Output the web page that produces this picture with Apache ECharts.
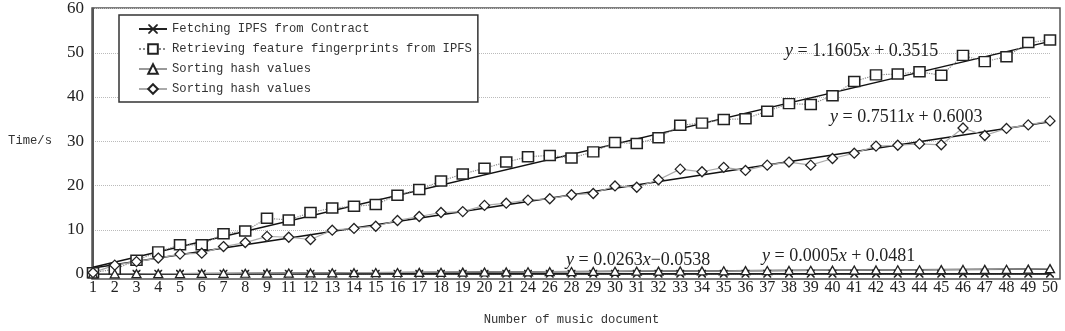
<!DOCTYPE html>
<html>
<head>
<meta charset="utf-8">
<script src="https://cdn.jsdelivr.net/npm/echarts@6/dist/echarts.min.js"></script>
<style>
html, body {margin: 0; padding: 0; background: #fff;}
#main {width: 1065px; height: 331px;}
</style>
</head>
<body>
<div id="main"></div>
<script>
// document numbers on the x axis (10, 22, 23, 25, 27 are not in the figure)
var docLabels = ['1', '2', '3', '4', '5', '6', '7', '8', '9', '11', '12', '13', '14', '15', '16', '17', '18', '19', '20', '21',
    '24', '26', '28', '29', '30', '31', '32', '33', '34', '35', '36', '37', '38', '39', '40', '41', '42', '43', '44', '45',
    '46', '47', '48', '49', '50'];

var contractTime = [0.05, 0.04, 0.05, 0.06, 0.05, 0.05, 0.06, 0.05, 0.05, 0.06, 0.05, 0.06, 0.05, 0.06, 0.06, 0.05, 0.06, 0.06, 0.05, 0.06,
    0.06, 0.05, 0.06, 0.06, 0.06, 0.05, 0.06, 0.06, 0.07, 0.06, 0.06, 0.07, 0.06, 0.07, 0.06, 0.07, 0.07, 0.06, 0.07, 0.07,
    0.07, 0.06, 0.07, 0.07, 0.08];

var fingerprintTime = [0.3, 1.1, 3.1, 5.0, 6.6, 6.6, 9.1, 9.7, 12.6, 12.2, 13.9, 14.9, 15.3, 15.7, 17.8, 19.1, 21.0, 22.6, 23.9, 25.3,
    26.5, 26.8, 26.2, 27.6, 29.7, 29.5, 30.8, 33.6, 34.1, 34.9, 35.1, 36.8, 38.5, 38.3, 40.3, 43.5, 45.0, 45.2, 45.7, 44.9,
    49.4, 48.0, 49.1, 52.3, 52.9];

var sortTime = [0.02, 0.04, 0.06, 0.08, 0.10, 0.12, 0.15, 0.17, 0.19, 0.22, 0.24, 0.27, 0.29, 0.32, 0.34, 0.37, 0.39, 0.42, 0.45, 0.47,
    0.50, 0.52, 0.55, 0.57, 0.60, 0.63, 0.65, 0.68, 0.70, 0.73, 0.76, 0.78, 0.81, 0.83, 0.86, 0.89, 0.91, 0.94, 0.96, 0.99,
    1.02, 1.04, 1.07, 1.10, 1.22];

var sortTime2 = [0.3, 2.0, 2.8, 3.6, 4.5, 4.7, 6.2, 7.1, 8.5, 8.3, 7.8, 9.9, 10.3, 10.8, 12.1, 13.0, 13.9, 14.1, 15.5, 16.0,
    16.7, 17.0, 17.9, 18.2, 19.9, 19.6, 21.3, 23.7, 23.1, 24.1, 23.4, 24.6, 25.3, 24.6, 26.1, 27.3, 28.9, 29.1, 29.4, 29.2,
    33.0, 31.3, 32.9, 33.7, 34.6];

// fitted lines: value at the first and at the last document
var contractFit = [0.05, 0.07];
var fingerprintFit = [1.51, 52.57];
var sortFit = [-0.03, 1.13];
var sortFit2 = [1.35, 34.40];

var yTicks = [0, 10, 20, 30, 40, 50, 60];

var serif = 'Liberation Serif';
var mono = 'Liberation Mono';
var crossPath = 'path://M0,0 L1.4,0 L5,3.6 L8.6,0 L10,0 L10,1.4 L6.4,5 L10,8.6 L10,10 L8.6,10 L5,6.4 L1.4,10 L0,10 L0,8.6 L3.6,5 L0,1.4 Z';

var names = ['Fetching IPFS from Contract', 'Retrieving feature fingerprints from IPFS', 'Sorting hash values', 'Sorting hash values '];

function fitLine(vals) {
    return [[docLabels[0], vals[0]], [docLabels[docLabels.length - 1], vals[1]]];
}

function eqText(a, b) {
    return '{i|y} = ' + a + '{i|x}' + b;
}

var myChart = echarts.init(document.getElementById('main'), null, {renderer: 'canvas'});

var eqRich = {i: {fontStyle: 'italic', fontFamily: serif, fontSize: 18, fill: '#222'}};

var option = {
    backgroundColor: '#fff',
    animation: false,
    grid: [
        {left: 93, right: 15, top: 8, bottom: 52},
        {left: 92, right: 5, top: 8, bottom: 52, show: true, borderColor: '#555', borderWidth: 1.5, backgroundColor: 'transparent'}
    ],
    legend: {
        orient: 'vertical',
        left: 119,
        top: 15,
        padding: [8, 6, 7, 19],
        itemGap: 8,
        itemWidth: 28,
        itemHeight: 12,
        borderColor: '#333',
        borderWidth: 1.5,
        borderRadius: 0,
        backgroundColor: '#fff',
        textStyle: {fontFamily: mono, fontSize: 12.2, color: '#333'},
        data: names
    },
    xAxis: [
        {
            type: 'category',
            data: docLabels,
            boundaryGap: false,
            name: 'Number of music document',
            nameLocation: 'middle',
            nameGap: 40,
            nameTextStyle: {fontFamily: mono, fontSize: 12.2, color: '#333'},
            axisLine: {lineStyle: {color: '#444', width: 1.5}},
            axisTick: {show: false},
            axisLabel: {interval: 0, margin: 6, fontFamily: serif, fontSize: 16, color: '#222'},
            splitLine: {show: false}
        },
        {gridIndex: 1, type: 'value', show: false}
    ],
    yAxis: [
        {
            type: 'value',
            min: yTicks[0],
            max: yTicks[yTicks.length - 1],
            interval: 10,
            name: 'Time/s',
            nameLocation: 'middle',
            nameRotate: 0,
            nameGap: 41,
            nameTextStyle: {fontFamily: mono, fontSize: 12.2, color: '#333'},
            axisLine: {show: true, lineStyle: {color: '#555', width: 2}},
            axisTick: {show: false},
            axisLabel: {margin: 9, fontFamily: serif, fontSize: 17, color: '#222'},
            splitLine: {lineStyle: {color: '#bbb', type: 'dotted', width: 1}}
        },
        {gridIndex: 1, type: 'value', show: false}
    ],
    series: [
        // fitted trend lines
        {name: 'fit-contract', type: 'line', data: fitLine(contractFit), symbol: 'none', silent: true, z: 2,
            lineStyle: {color: '#111', width: 1.5}},
        {name: 'fit-fingerprint', type: 'line', data: fitLine(fingerprintFit), symbol: 'none', silent: true, z: 2,
            lineStyle: {color: '#111', width: 1.5}},
        {name: 'fit-sort', type: 'line', data: fitLine(sortFit), symbol: 'none', silent: true, z: 2,
            lineStyle: {color: '#111', width: 1.5}},
        {name: 'fit-sort2', type: 'line', data: fitLine(sortFit2), symbol: 'none', silent: true, z: 2,
            lineStyle: {color: '#111', width: 1.5}},
        // measured values
        {
            name: names[0], type: 'line', data: contractTime, z: 3,
            symbol: crossPath, symbolSize: 8,
            lineStyle: {color: '#222', width: 1.2},
            itemStyle: {color: '#222', borderWidth: 0}
        },
        {
            name: names[1], type: 'line', data: fingerprintTime, z: 3,
            symbol: 'rect', symbolSize: [11, 10],
            lineStyle: {color: '#888', width: 1.2, type: 'dotted'},
            itemStyle: {color: '#fff', borderColor: '#222', borderWidth: 1.5}
        },
        {
            name: names[2], type: 'line', data: sortTime, z: 3,
            symbol: 'triangle', symbolSize: [9, 8],
            lineStyle: {color: '#999', width: 1.2},
            itemStyle: {color: '#fff', borderColor: '#222', borderWidth: 1.3}
        },
        {
            name: names[3], type: 'line', data: sortTime2, z: 3,
            symbol: 'diamond', symbolSize: [10, 10],
            lineStyle: {color: '#aaa', width: 1.2},
            itemStyle: {color: '#fff', borderColor: '#222', borderWidth: 1.3}
        }
    ],
    graphic: [
        {type: 'text', left: 785, top: 42, z: 10, style: {text: eqText('1.1605', ' + 0.3515'), fontFamily: serif, fontSize: 18, fill: '#222', rich: eqRich}},
        {type: 'text', left: 830, top: 108, z: 10, style: {text: eqText('0.7511', ' + 0.6003'), fontFamily: serif, fontSize: 18, fill: '#222', rich: eqRich}},
        {type: 'text', left: 566, top: 251, z: 10, style: {text: eqText('0.0263', '\u22120.0538'), fontFamily: serif, fontSize: 18, fill: '#222', rich: eqRich}},
        {type: 'text', left: 762, top: 247, z: 10, style: {text: eqText('0.0005', ' + 0.0481'), fontFamily: serif, fontSize: 18, fill: '#222', rich: eqRich}}
    ]
};

myChart.setOption(option);
</script>
</body>
</html>
